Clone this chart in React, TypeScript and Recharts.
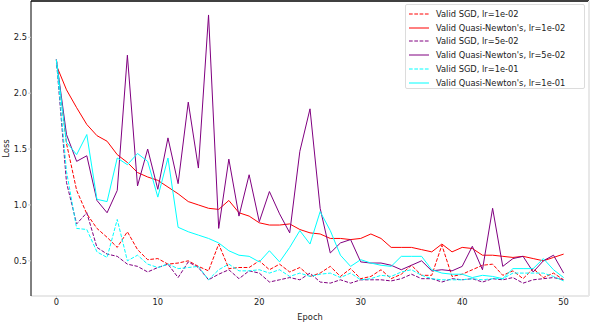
import React from 'react';
import { LineChart, Line, XAxis, YAxis, ReferenceLine, Legend } from 'recharts';

const epochs = [0,1,2,3,4,5,6,7,8,9,10,11,12,13,14,15,16,17,18,19,20,21,22,23,24,25,26,27,28,29,30,31,32,33,34,35,36,37,38,39,40,41,42,43,44,45,46,47,48,49,50];

const sgdLr1e2 = [2.30,1.55,1.13,0.92,0.79,0.71,0.62,0.76,0.60,0.51,0.52,0.47,0.48,0.50,0.45,0.41,0.65,0.43,0.44,0.44,0.50,0.42,0.47,0.40,0.44,0.36,0.39,0.45,0.36,0.43,0.34,0.36,0.42,0.34,0.38,0.46,0.37,0.37,0.64,0.36,0.38,0.42,0.46,0.47,0.37,0.41,0.34,0.43,0.35,0.39,0.33];
const qnLr1e2 = [2.25,2.03,1.87,1.72,1.62,1.57,1.45,1.38,1.29,1.25,1.22,1.16,1.10,1.03,1.00,0.97,0.96,1.04,0.93,0.90,0.84,0.82,0.82,0.83,0.78,0.75,0.74,0.70,0.70,0.69,0.70,0.74,0.70,0.62,0.62,0.62,0.60,0.58,0.65,0.58,0.62,0.61,0.55,0.55,0.54,0.53,0.54,0.52,0.50,0.53,0.56];
const sgdLr5e2 = [2.30,1.20,0.83,0.93,0.62,0.56,0.54,0.47,0.45,0.40,0.44,0.47,0.35,0.49,0.44,0.33,0.38,0.42,0.34,0.41,0.39,0.31,0.33,0.35,0.33,0.39,0.31,0.30,0.33,0.30,0.33,0.33,0.33,0.32,0.34,0.38,0.34,0.34,0.31,0.34,0.33,0.34,0.31,0.34,0.33,0.35,0.30,0.33,0.34,0.35,0.33];
const qnLr5e2 = [2.30,1.63,1.39,1.44,1.04,0.93,1.13,2.34,1.17,1.50,1.14,1.60,1.19,1.92,1.33,2.70,0.79,1.41,0.90,1.27,0.85,1.12,0.92,0.75,1.48,1.86,0.97,0.57,0.66,0.69,0.49,0.48,0.48,0.46,0.42,0.46,0.50,0.41,0.42,0.41,0.45,0.63,0.42,0.97,0.45,0.52,0.54,0.40,0.50,0.55,0.39];
const sgdLr1e1 = [2.30,1.30,0.79,0.78,0.58,0.53,0.87,0.50,0.55,0.47,0.44,0.47,0.43,0.44,0.45,0.33,0.42,0.47,0.41,0.41,0.42,0.39,0.42,0.36,0.39,0.36,0.38,0.39,0.35,0.39,0.33,0.34,0.37,0.36,0.40,0.42,0.37,0.34,0.33,0.33,0.33,0.34,0.33,0.34,0.34,0.39,0.39,0.39,0.39,0.36,0.32];
const qnLr1e1 = [2.30,1.56,1.45,1.63,1.05,1.03,1.42,1.36,1.46,1.39,1.07,1.42,0.80,0.76,0.73,0.70,0.66,0.59,0.55,0.54,0.49,0.59,0.49,0.62,0.77,0.65,0.94,0.77,0.55,0.45,0.51,0.48,0.46,0.45,0.54,0.54,0.54,0.42,0.39,0.38,0.38,0.35,0.37,0.36,0.34,0.43,0.43,0.43,0.52,0.42,0.35];

const xTicks = [0, 10, 20, 30, 40, 50];
const yTicks = [0.5, 1.0, 1.5, 2.0, 2.5];

const seriesNames = [
  'Valid SGD, lr=1e-02',
  "Valid Quasi-Newton's, lr=1e-02",
  'Valid SGD, lr=5e-02',
  "Valid Quasi-Newton's, lr=5e-02",
  'Valid SGD, lr=1e-01',
  "Valid Quasi-Newton's, lr=1e-01",
];
const seriesKeys = ['sgd1', 'qn1', 'sgd5', 'qn5', 'sgd10', 'qn10'];
const seriesValues = [sgdLr1e2, qnLr1e2, sgdLr5e2, qnLr5e2, sgdLr1e1, qnLr1e1];
const seriesColors = ['#ff0000', '#ff0000', '#800080', '#800080', '#00ffff', '#00ffff'];
const seriesDashed = [true, false, true, false, true, false];

const data = epochs.map((e, i) => {
  const row: Record<string, number> = { epoch: e };
  seriesKeys.forEach((k, j) => { row[k] = seriesValues[j][i]; });
  return row;
});

const FONT = 'DejaVu Sans';
const DASH = '3.7 1.6';

const renderLegend = () => (
  <div style={{ position: 'relative', width: 180, height: 85, border: '1px solid #dcdcdc', borderRadius: 2, background: 'rgba(255,255,255,0.85)', boxSizing: 'border-box', fontFamily: FONT, fontSize: 8.3, color: '#222' }}>
    {seriesNames.map((name, i) => (
      <div key={name} style={{ position: 'absolute', left: 2, top: 3 + i * 13.7, height: 12, display: 'flex', alignItems: 'center', whiteSpace: 'nowrap' }}>
        <svg width={22} height={4} style={{ display: 'block' }}>
          <line x1={1} y1={2} x2={21} y2={2} stroke={seriesColors[i]} strokeWidth={1} strokeDasharray={seriesDashed[i] ? DASH : undefined} />
        </svg>
        <span style={{ marginLeft: 6 }}>{name}</span>
      </div>
    ))}
  </div>
);

export default function App() {
  return (
    <div style={{ position: 'absolute', left: 0, top: 0, width: 590, height: 322, background: '#fff' }}>
      <LineChart width={590} height={322} data={data} margin={{ top: 1, right: 1, bottom: 0, left: 0 }} style={{ fontFamily: FONT }}>
        <XAxis
          dataKey="epoch"
          type="number"
          domain={[-2.5, 52.5]}
          ticks={xTicks}
          allowDataOverflow
          height={26}
          axisLine={{ stroke: '#e8e8e8', strokeWidth: 2 }}
          tickLine={{ stroke: '#cfcfcf' }}
          tickSize={2}
          tickMargin={1}
          tick={{ fill: '#222', fontSize: 8.3, fontFamily: FONT }}
          label={{ value: 'Epoch', position: 'insideBottom', offset: 2, fill: '#222', fontSize: 8.3, fontFamily: FONT }}
        />
        <YAxis
          type="number"
          domain={[0.185, 2.825]}
          ticks={yTicks}
          allowDataOverflow
          width={31}
          axisLine={{ stroke: '#000', strokeWidth: 1 }}
          tickLine={{ stroke: '#cfcfcf' }}
          tickSize={3}
          tickMargin={1}
          tickFormatter={(v: number) => v.toFixed(1)}
          tick={{ fill: '#222', fontSize: 8.3, fontFamily: FONT }}
          label={{ value: 'Loss', angle: -90, position: 'insideLeft', offset: 6, fill: '#222', fontSize: 8.3, fontFamily: FONT, style: { textAnchor: 'middle' } }}
        />
        <ReferenceLine y={2.825} stroke="#000" strokeWidth={1.5} ifOverflow="visible" />
        <ReferenceLine x={52.5} stroke="#e8e8e8" strokeWidth={2} ifOverflow="visible" />
        {seriesKeys.map((k, i) => (
          <Line
            key={k}
            type="linear"
            dataKey={k}
            name={seriesNames[i]}
            stroke={seriesColors[i]}
            strokeWidth={1}
            strokeDasharray={seriesDashed[i] ? DASH : undefined}
            dot={false}
            activeDot={false}
            isAnimationActive={false}
          />
        ))}
        <Legend layout="vertical" align="center" verticalAlign="middle" content={renderLegend} wrapperStyle={{ position: 'absolute', left: 405, top: 4, width: 180, height: 85 }} />
      </LineChart>
    </div>
  );
}
